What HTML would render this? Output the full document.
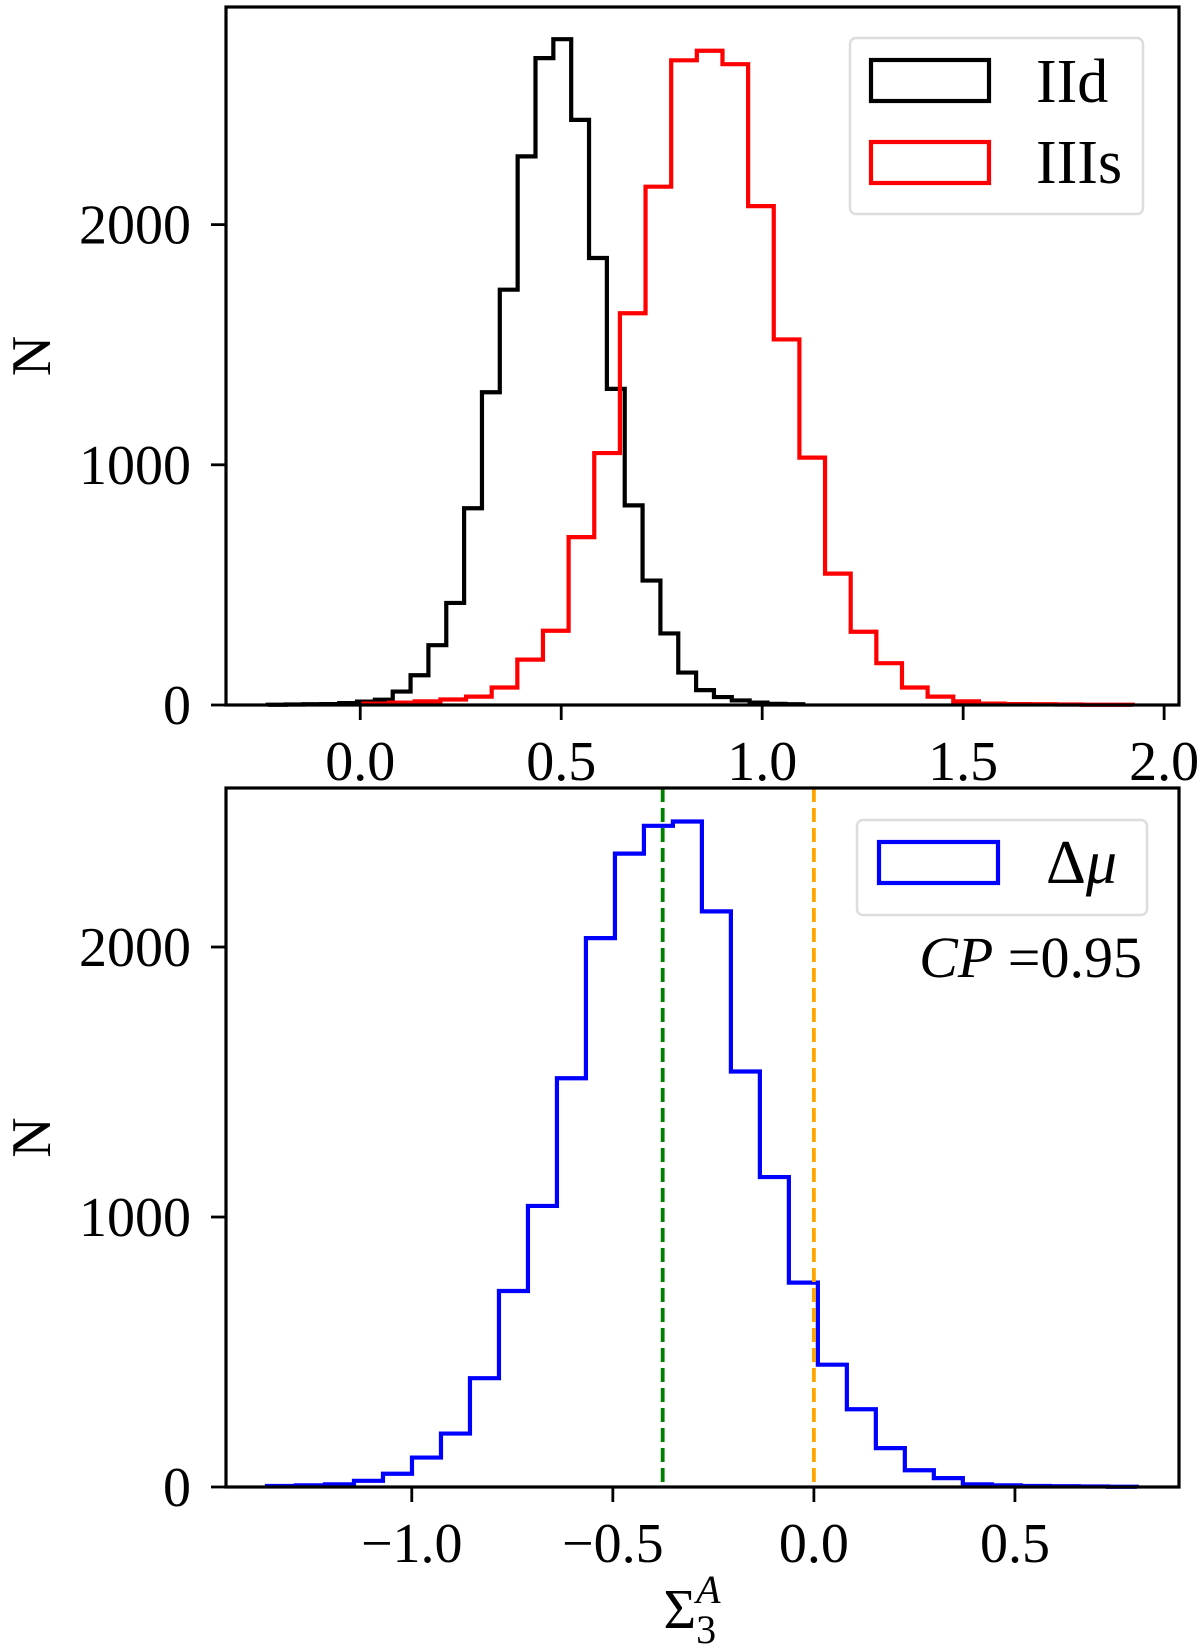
<!DOCTYPE html>
<html><head><meta charset="utf-8"><style>
html,body{margin:0;padding:0;background:#fff;}
svg{display:block;font-family:"Liberation Serif",serif;}
</style></head><body>
<svg id="chart" width="1200" height="1650" viewBox="0 0 1200 1650" xmlns="http://www.w3.org/2000/svg"></svg>
<script>
// Top panel data
const topXTicks = [0.0, 0.5, 1.0, 1.5, 2.0];
const topXTickLabels = ["0.0","0.5","1.0","1.5","2.0"];
const topYTicks = [0, 1000, 2000];
const topYTickLabels = ["0","1000","2000"];
const iidStart = -0.23;
const iidWidth = 0.0444;
const iidCounts = [1,2,3,4,8,14,22,56,124,249,425,819,1302,1729,2284,2693,2772,2436,1861,1316,831,518,298,135,62,33,19,10,5,3];
const iiisStart = 0.008;
const iiisWidth = 0.0638;
const iiisCounts = [6,10,15,23,35,73,189,309,699,1049,1631,2158,2684,2724,2668,2077,1522,1030,547,305,174,73,35,15,6,4,3,2,1,1];
// Bottom panel data
const botXTicks = [-1.0, -0.5, 0.0, 0.5];
const botXTickLabels = ["\u22121.0","\u22120.5","0.0","0.5"];
const botYTicks = [0, 1000, 2000];
const botYTickLabels = ["0","1000","2000"];
const dmuStart = -1.360;
const dmuWidth = 0.0721;
const dmuCounts = [4,6,10,23,49,109,198,403,726,1041,1514,2033,2346,2449,2465,2132,1539,1148,757,453,288,144,62,33,10,6,4,3,2,1];
const medianLine = [-0.376];
const zeroLine = [0.0];

const NS = "http://www.w3.org/2000/svg";
const svg = document.getElementById('chart');
function mk(tag, attrs, parent){ const e=document.createElementNS(NS,tag); for(const k in attrs) e.setAttribute(k,attrs[k]); (parent||svg).appendChild(e); return e; }

function panel(p){
  const g = mk('g',{});
  
  
  const sx = v => p.L + (v - p.xmin)/(p.xmax - p.xmin)*(p.R - p.L);
  const sy = v => p.B - (v - p.ymin)/(p.ymax - p.ymin)*(p.B - p.T);
  p.series.forEach(s=>{
    let d = '';
    s.counts.forEach((c,i)=>{
      const x0 = sx(s.start + i*s.width), x1 = sx(s.start + (i+1)*s.width), y = sy(c);
      if(i===0) d += 'M'+x0+','+sy(0)+' L'+x0+','+y; else d += ' L'+x0+','+y;
      d += ' L'+x1+','+y;
      if(i===s.counts.length-1) d += ' L'+x1+','+sy(0);
    });
    const path = mk('path',{d:d,fill:'none',stroke:s.color,'stroke-width':4.2,'stroke-linejoin':'miter'},g);
    
    
  });
  (p.vlines||[]).forEach(vl=>{
    const x = sx(vl.values[0]);
    const ln = mk('line',{x1:x,x2:x,y1:p.T,y2:p.B,stroke:vl.color,'stroke-width':3.8,'stroke-dasharray':'14,6'},g);
    
    
  });
  const frame = mk('rect',{x:p.L,y:p.T,width:p.R-p.L,height:p.B-p.T,fill:'none',stroke:'#000','stroke-width':3.2},g);
  
  
  p.xt.forEach((v,i)=>{
    const x = sx(v);
    const t = mk('line',{x1:x,x2:x,y1:p.B,y2:p.B+15,stroke:'#000','stroke-width':2.8},g);
    
    
    const tx = mk('text',{x:x,y:p.B+75,'font-size':56,'text-anchor':'middle'},g);
    tx.textContent = p.xtl[i];
    
    
  });
  p.yt.forEach((v,i)=>{
    const y = sy(v);
    const t = mk('line',{x1:p.L-15,x2:p.L,y1:y,y2:y,stroke:'#000','stroke-width':2.8},g);
    
    
    const tx = mk('text',{x:p.L-35,y:y+19,'font-size':56,'text-anchor':'end'},g);
    tx.textContent = p.ytl[i];
    
    
  });
  const yl = mk('text',{x:0,y:0,'font-size':56,'text-anchor':'middle',transform:'translate('+p.ylx+','+((p.T+p.B)/2)+') rotate(-90)'},g);
  yl.textContent = 'N';
  
  
}

panel({name:'top-panel',L:226,R:1179,T:7,B:705,xmin:-0.334,xmax:2.037,ymin:0,ymax:2906,
  xt:topXTicks,xtl:topXTickLabels,yt:topYTicks,ytl:topYTickLabels,ylx:50,
  series:[{name:'iid-histogram',counts:iidCounts,start:iidStart,width:iidWidth,color:'#000'},
          {name:'iiis-histogram',counts:iiisCounts,start:iiisStart,width:iiisWidth,color:'#ff0000'}]});
panel({name:'bottom-panel',L:226,R:1179,T:788,B:1487,xmin:-1.462,xmax:0.908,ymin:0,ymax:2589,
  xt:botXTicks,xtl:botXTickLabels,yt:botYTicks,ytl:botYTickLabels,ylx:50,
  series:[{name:'delta-mu-histogram',counts:dmuCounts,start:dmuStart,width:dmuWidth,color:'#0000ff'}],
  vlines:[{name:'median-line',values:medianLine,color:'#008000'},{name:'zero-line',values:zeroLine,color:'#ffa500'}]});
</script>
<svg width="1200" height="1650" style="position:absolute;left:0;top:0" xmlns="http://www.w3.org/2000/svg" font-family="Liberation Serif, serif">
  <g>
    <rect x="850" y="38" width="293" height="176" rx="6" fill="#fff" fill-opacity="0.8" stroke="#dddddd" stroke-width="2.5"/>
    <rect x="871" y="60" width="118" height="41" fill="none" stroke="#000" stroke-width="4.2"/>
    <text x="1036" y="102" font-size="62">IId</text>
    <rect x="871" y="142" width="118" height="41" fill="none" stroke="#ff0000" stroke-width="4.2"/>
    <text x="1036" y="183" font-size="62">IIIs</text>
  </g>
  <g>
    <rect x="857" y="820" width="290" height="95" rx="6" fill="#fff" fill-opacity="0.8" stroke="#dddddd" stroke-width="2.5"/>
    <rect x="879" y="842" width="119" height="41" fill="none" stroke="#0000ff" stroke-width="4.2"/>
    <text x="1046" y="883" font-size="62">Δ<tspan font-style="italic">μ</tspan></text>
  </g>
  <text x="1142" y="977" font-size="58" text-anchor="end"><tspan font-style="italic">CP</tspan> =0.95</text>
  <text x="692" y="1628" font-size="56" text-anchor="middle">Σ<tspan font-size="40" dy="15">3</tspan><tspan font-size="40" font-style="italic" dx="-20" dy="-40">A</tspan></text>
</svg>
</body></html>
